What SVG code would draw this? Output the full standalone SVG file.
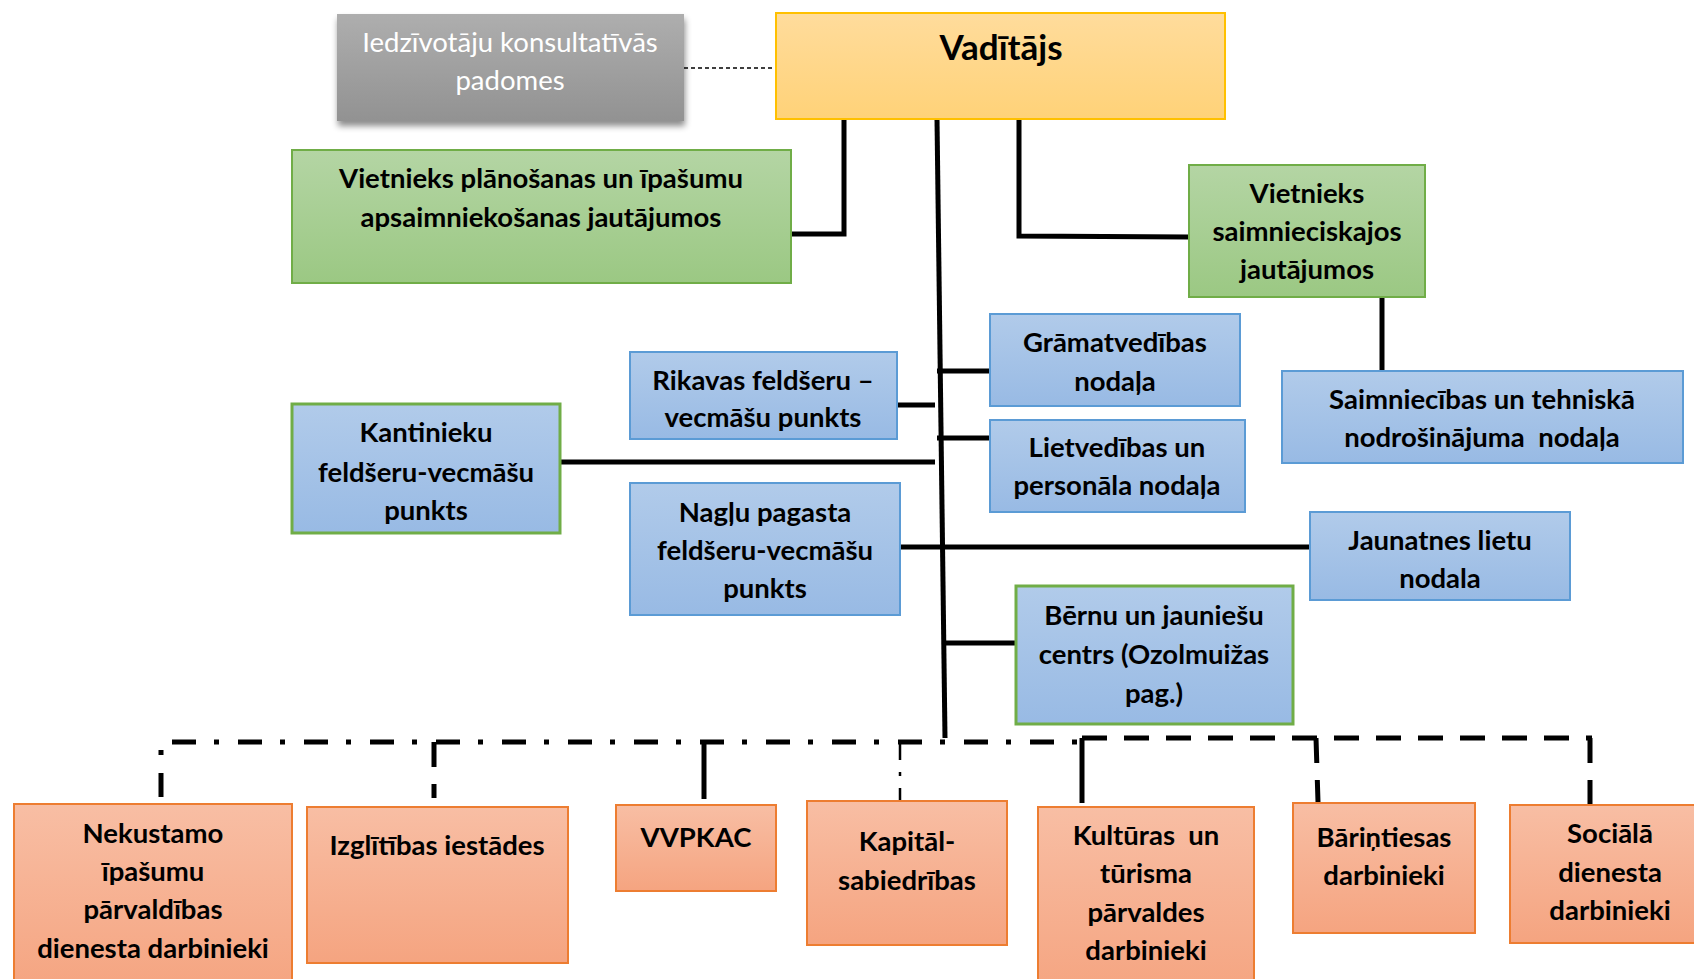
<svg xmlns="http://www.w3.org/2000/svg" width="1694" height="979" viewBox="0 0 1694 979">
<defs>
<linearGradient id="gBlue" x1="0" y1="0" x2="0" y2="1"><stop offset="0" stop-color="#B1CBEA"/><stop offset="1" stop-color="#98BAE4"/></linearGradient>
<linearGradient id="gGreen" x1="0" y1="0" x2="0" y2="1"><stop offset="0" stop-color="#B4D5A4"/><stop offset="1" stop-color="#9BC883"/></linearGradient>
<linearGradient id="gOrange" x1="0" y1="0" x2="0" y2="1"><stop offset="0" stop-color="#F8BEA4"/><stop offset="1" stop-color="#F5A480"/></linearGradient>
<linearGradient id="gYellow" x1="0" y1="0" x2="0" y2="1"><stop offset="0" stop-color="#FFDC9C"/><stop offset="1" stop-color="#FFD278"/></linearGradient>
<linearGradient id="gGray" x1="0" y1="0" x2="0" y2="1"><stop offset="0" stop-color="#AEAEAE"/><stop offset="1" stop-color="#929292"/></linearGradient>
<filter id="shadow" x="-10%" y="-10%" width="125%" height="135%"><feDropShadow dx="1" dy="5" stdDeviation="3" flood-color="#000" flood-opacity="0.45"/></filter>
</defs>
<style>
.t{font-family:Lato,"Liberation Sans",sans-serif;font-weight:bold;font-size:27.5px;fill:#000;text-anchor:middle;white-space:pre}
.w{font-family:Lato,"Liberation Sans",sans-serif;font-weight:normal;font-size:27.5px;fill:#fff;text-anchor:middle}
.blue{fill:url(#gBlue);stroke:#5B9BD5;stroke-width:2}
.bluegreen{fill:url(#gBlue);stroke:#70AD47;stroke-width:3}
.green{fill:url(#gGreen);stroke:#70AD47;stroke-width:2}
.orange{fill:url(#gOrange);stroke:#ED7D31;stroke-width:2}
.yellow{fill:url(#gYellow);stroke:#FFC000;stroke-width:2}
.c{fill:none;stroke:#000;stroke-width:5}
.dd{fill:none;stroke:#000;stroke-width:5;stroke-dasharray:24 18 5 19}
.da{fill:none;stroke:#000;stroke-width:5;stroke-dasharray:25 17}
</style>
<g id="connectors">
<line x1="684" y1="68" x2="776" y2="68" stroke="#000" stroke-width="1.5" stroke-dasharray="4 3"/>
<polyline class="c" points="844,119 844,234 791,234"/>
<polyline class="c" points="1019,119 1019,236 1189,237"/>
<line class="c" x1="937" y1="119" x2="945" y2="738" stroke-width="4.5"/>
<line class="c" x1="1382" y1="297" x2="1382" y2="371"/>
<line class="c" x1="937" y1="371" x2="990" y2="371"/>
<line class="c" x1="897" y1="405" x2="935" y2="405"/>
<line class="c" x1="937" y1="438" x2="990" y2="438"/>
<line class="c" x1="560" y1="462" x2="935" y2="462"/>
<line class="c" x1="900" y1="547" x2="1314" y2="547"/>
<line class="c" x1="945" y1="643" x2="1016" y2="643"/>
<polyline class="dd" points="161,797 161,742 1080,742"/>
<line class="da" x1="434" y1="742" x2="434" y2="798"/>
<line class="c" x1="704" y1="742" x2="704" y2="799"/>
<line x1="900" y1="742" x2="900" y2="800" stroke="#000" stroke-width="2.5" stroke-dasharray="18 12 4 12"/>
<line class="c" x1="1082" y1="738" x2="1082" y2="803"/>
<line class="da" x1="1082" y1="738" x2="1592" y2="738"/>
<line class="da" x1="1316" y1="738" x2="1318" y2="802"/>
<line class="da" x1="1590" y1="738" x2="1590" y2="804"/>
</g>
<g id="padomes">
<rect x="337" y="14" width="347" height="107" fill="url(#gGray)" filter="url(#shadow)"/>
<text class="w" x="510" y="52">Iedzīvotāju konsultatīvās</text>
<text class="w" x="510" y="90">padomes</text>
</g>
<g id="vaditajs">
<rect class="yellow" x="776" y="13" width="449" height="106"/>
<text class="t" x="1001" y="60" style="font-size:35px">Vadītājs</text>
</g>
<g id="vietnieks1">
<rect class="green" x="292" y="150" width="499" height="133"/>
<text class="t" x="541" y="188">Vietnieks plānošanas un īpašumu</text>
<text class="t" x="541" y="227">apsaimniekošanas jautājumos</text>
</g>
<g id="vietnieks2">
<rect class="green" x="1189" y="165" width="236" height="132"/>
<text class="t" x="1307" y="203">Vietnieks</text>
<text class="t" x="1307" y="241">saimnieciskajos</text>
<text class="t" x="1307" y="279">jautājumos</text>
</g>
<g id="saimniecibas">
<rect class="blue" x="1282" y="371" width="401" height="92"/>
<text class="t" x="1482" y="409">Saimniecības un tehniskā</text>
<text class="t" x="1482" y="447">nodrošinājuma  nodaļa</text>
</g>
<g id="gramatvedibas">
<rect class="blue" x="990" y="314" width="250" height="92"/>
<text class="t" x="1115" y="352">Grāmatvedības</text>
<text class="t" x="1115" y="391">nodaļa</text>
</g>
<g id="rikavas">
<rect class="blue" x="630" y="352" width="267" height="87"/>
<text class="t" x="763" y="390">Rikavas feldšeru –</text>
<text class="t" x="763" y="427">vecmāšu punkts</text>
</g>
<g id="lietvedibas">
<rect class="blue" x="990" y="420" width="255" height="92"/>
<text class="t" x="1117" y="457">Lietvedības un</text>
<text class="t" x="1117" y="495">personāla nodaļa</text>
</g>
<g id="kantinieku">
<rect class="bluegreen" x="292" y="404" width="268" height="129"/>
<text class="t" x="426" y="442">Kantinieku</text>
<text class="t" x="426" y="482">feldšeru-vecmāšu</text>
<text class="t" x="426" y="520">punkts</text>
</g>
<g id="naglu">
<rect class="blue" x="630" y="483" width="270" height="132"/>
<text class="t" x="765" y="522">Nagļu pagasta</text>
<text class="t" x="765" y="560">feldšeru-vecmāšu</text>
<text class="t" x="765" y="598">punkts</text>
</g>
<g id="jaunatnes">
<rect class="blue" x="1310" y="512" width="260" height="88"/>
<text class="t" x="1440" y="550">Jaunatnes lietu</text>
<text class="t" x="1440" y="588">nodala</text>
</g>
<g id="bernu">
<rect class="bluegreen" x="1016" y="586" width="277" height="138"/>
<text class="t" x="1154" y="625">Bērnu un jauniešu</text>
<text class="t" x="1154" y="664">centrs (Ozolmuižas</text>
<text class="t" x="1154" y="703">pag.)</text>
</g>
<g id="nekustamo">
<rect class="orange" x="14" y="804" width="278" height="190"/>
<text class="t" x="153" y="843">Nekustamo</text>
<text class="t" x="153" y="881">īpašumu</text>
<text class="t" x="153" y="919">pārvaldības</text>
<text class="t" x="153" y="958">dienesta darbinieki</text>
</g>
<g id="izglitibas">
<rect class="orange" x="307" y="807" width="261" height="156"/>
<text class="t" x="437" y="855">Izglītības iestādes</text>
</g>
<g id="vvpkac">
<rect class="orange" x="616" y="805" width="160" height="86"/>
<text class="t" x="696" y="847">VVPKAC</text>
</g>
<g id="kapital">
<rect class="orange" x="807" y="801" width="200" height="144"/>
<text class="t" x="907" y="851">Kapitāl-</text>
<text class="t" x="907" y="890">sabiedrības</text>
</g>
<g id="kulturas">
<rect class="orange" x="1038" y="807" width="216" height="190"/>
<text class="t" x="1146" y="845">Kultūras  un</text>
<text class="t" x="1146" y="883">tūrisma</text>
<text class="t" x="1146" y="922">pārvaldes</text>
<text class="t" x="1146" y="960">darbinieki</text>
</g>
<g id="barintiesas">
<rect class="orange" x="1293" y="803" width="182" height="130"/>
<text class="t" x="1384" y="847">Bāriņtiesas</text>
<text class="t" x="1384" y="885">darbinieki</text>
</g>
<g id="sociala">
<rect class="orange" x="1510" y="805" width="200" height="138"/>
<text class="t" x="1610" y="843">Sociālā</text>
<text class="t" x="1610" y="882">dienesta</text>
<text class="t" x="1610" y="920">darbinieki</text>
</g>
</svg>
